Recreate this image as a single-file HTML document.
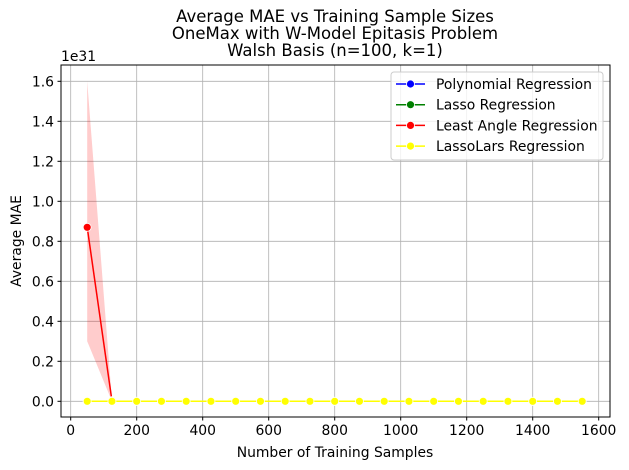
<!DOCTYPE html>
<html><head><meta charset="utf-8"><style>
html,body{margin:0;padding:0;background:#fff;}
svg{display:block;font-family:"DejaVu Sans","Liberation Sans",sans-serif;}
</style></head><body>
<svg id="chart" width="629" height="470" viewBox="0 0 629 470">
<g font-size="16.5" text-anchor="middle" fill="#000">
<text x="335" y="22">Average MAE vs Training Sample Sizes</text>
<text x="335" y="39">OneMax with W-Model Epitasis Problem</text>
<text x="335" y="56">Walsh Basis (n=100, k=1)</text>
</g>
<g id="grid"></g>
<g id="band"></g>
<g id="series"></g>
<rect x="61" y="65" width="549" height="352" fill="none" stroke="#000" stroke-width="1"/>
<g id="xticks"></g>
<g id="yticks"></g>
<text x="61" y="61" font-size="13.9">1e31</text>
<text x="335" y="457" font-size="13.9" text-anchor="middle">Number of Training Samples</text>
<text x="21" y="241" font-size="13.9" text-anchor="middle" transform="rotate(-90 21 241)">Average MAE</text>
<g id="legend"></g>
</svg>
<script>
const xValues=[50,125,200,275,350,425,500,575,650,725,800,875,950,1025,1100,1175,1250,1325,1400,1475,1550];
const polyValues=[0,0,0,0,0,0,0,0,0,0,0,0,0,0,0,0,0,0,0,0,0];
const lassoValues=[0,0,0,0,0,0,0,0,0,0,0,0,0,0,0,0,0,0,0,0,0];
const larValues=[0.87,0.003];
const larLow=[0.30,0.0];
const larHigh=[1.60,0.005];
const lassoLarsValues=[0,0,0,0,0,0,0,0,0,0,0,0,0,0,0,0,0,0,0,0,0];
const xTicks=[0,200,400,600,800,1000,1200,1400,1600];
const yTicks=[0,0.2,0.4,0.6,0.8,1.0,1.2,1.4,1.6];
const seriesNames=["Polynomial Regression","Lasso Regression","Least Angle Regression","LassoLars Regression"];
const seriesColors=["blue","green","red","yellow"];

const NS="http://www.w3.org/2000/svg";
const L=61,R=610,T=65,B=417;
const xs=v=>70.7+v*0.33;
const ys=v=>401.3-v*200;
function mk(tag,attrs,parent){const e=document.createElementNS(NS,tag);for(const k in attrs)e.setAttribute(k,attrs[k]);parent.appendChild(e);return e;}
const grid=document.getElementById('grid'),xt=document.getElementById('xticks'),yt=document.getElementById('yticks');
xTicks.forEach(t=>{const x=xs(t);
 const g=mk('line',{x1:x,x2:x,y1:T,y2:B,stroke:'#b0b0b0','stroke-width':0.8},grid);
 
 
 mk('line',{x1:x,x2:x,y1:B,y2:B+3.5,stroke:'#000'},xt);
 const tx=mk('text',{x:x,y:B+18,'font-size':13.9,'text-anchor':'middle'},xt);tx.textContent=t;
 
 
});
yTicks.forEach(t=>{const y=ys(t);
 const g=mk('line',{x1:L,x2:R,y1:y,y2:y,stroke:'#b0b0b0','stroke-width':0.8},grid);
 
 
 mk('line',{x1:L-3.5,x2:L,y1:y,y2:y,stroke:'#000'},yt);
 const tx=mk('text',{x:L-7,y:y+5,'font-size':13.9,'text-anchor':'end'},yt);tx.textContent=t.toFixed(1);
 
 
});
const band=document.getElementById('band');
let pts=[];for(let i=0;i<larHigh.length;i++)pts.push(xs(xValues[i])+','+ys(larHigh[i]));
for(let i=larLow.length-1;i>=0;i--)pts.push(xs(xValues[i])+','+ys(larLow[i]));
const bp=mk('polygon',{points:pts.join(' '),fill:'red','fill-opacity':0.2},band);


const ser=document.getElementById('series');
const all=[polyValues,lassoValues,larValues,lassoLarsValues];
all.forEach((vals,si)=>{
 const g=mk('g',{},ser);
 
 
 const p=vals.map((v,i)=>xs(xValues[i])+','+ys(v)).join(' ');
 mk('polyline',{points:p,fill:'none',stroke:seriesColors[si],'stroke-width':1.5},g);
 vals.forEach((v,i)=>{const c=mk('circle',{cx:xs(xValues[i]),cy:ys(v),r:4,fill:seriesColors[si],stroke:'#fff','stroke-width':0.8},g);
  
  });
});
const lg=document.getElementById('legend');
mk('rect',{x:391,y:72,width:212,height:88,rx:3,fill:'#fff','fill-opacity':0.8,stroke:'#ccc'},lg);
seriesNames.forEach((n,i)=>{const y=84+i*20.7;
 const e=mk('g',{},lg);
 
 
 mk('line',{x1:396,x2:425,y1:y,y2:y,stroke:seriesColors[i],'stroke-width':1.5},e);
 mk('circle',{cx:410.5,cy:y,r:4,fill:seriesColors[i],stroke:'#fff','stroke-width':0.8},e);
 const t=mk('text',{x:436,y:y+5,'font-size':13.9},e);t.textContent=n;
});
</script>
</body></html>
